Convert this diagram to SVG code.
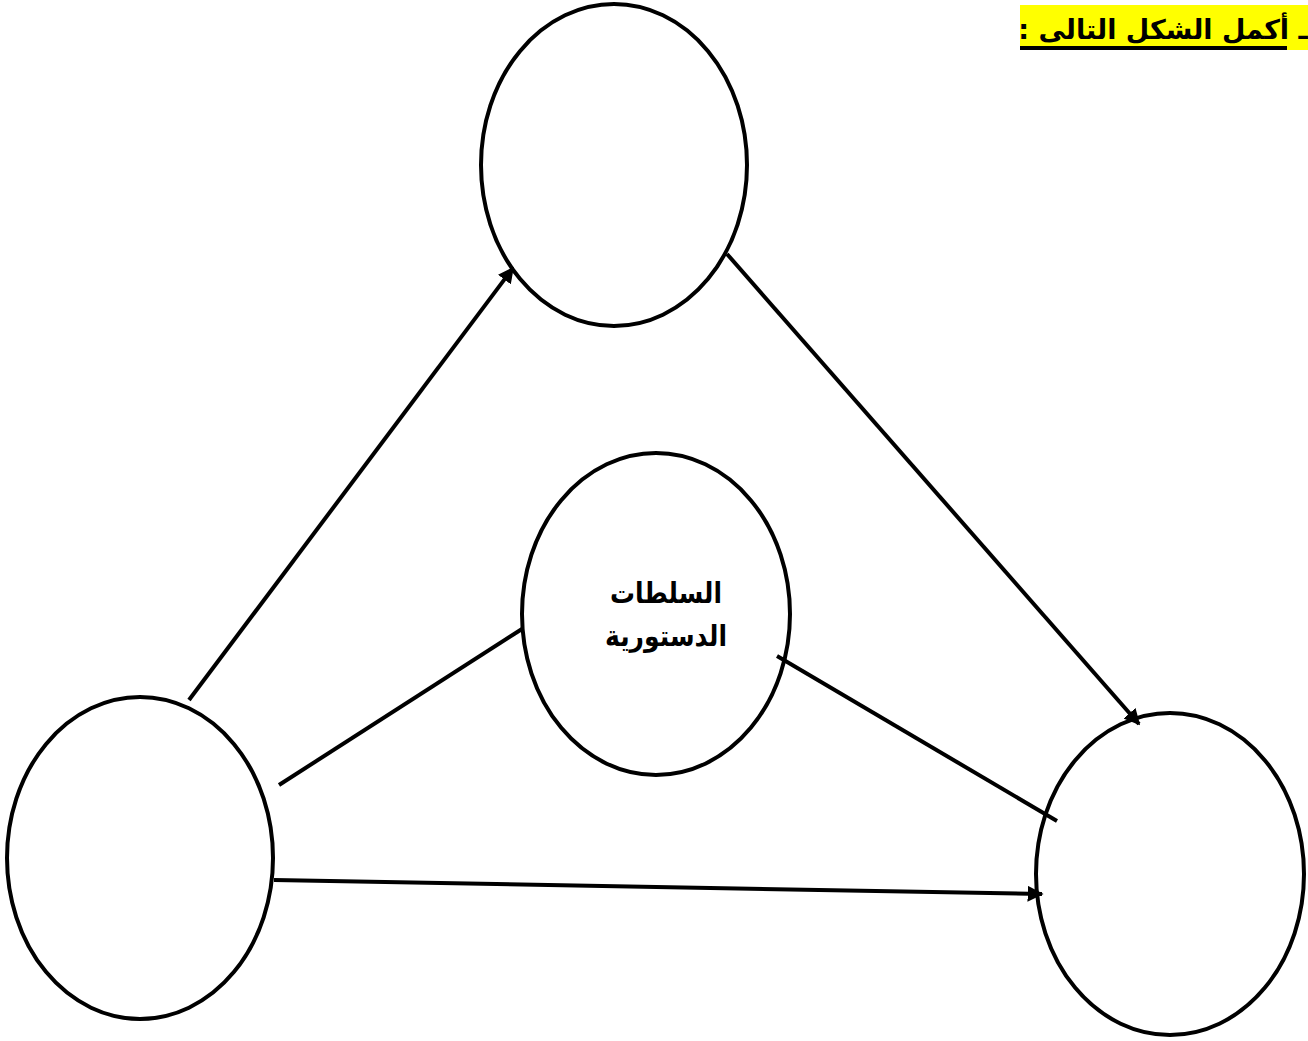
<svg xmlns="http://www.w3.org/2000/svg" width="1308" height="1041" viewBox="0 0 1308 1041">
<style>
.node{fill:#fff;stroke:#000;stroke-width:4}
.conn{stroke:#000;stroke-width:4;fill:none}
.lbl{font-family:"DejaVu Sans","Noto Sans",sans-serif;font-weight:bold;fill:#000}
</style>
<defs>
<marker id="arr" viewBox="0 0 10 10" refX="9" refY="5" markerWidth="4" markerHeight="4" orient="auto" markerUnits="strokeWidth">
<path d="M0,0 L10,5 L0,10 z" fill="#000"/>
</marker>
</defs>
<rect width="1308" height="1041" fill="#fff"/>
<g id="title">
<rect x="1020" y="5" width="288" height="45" fill="#ffff00"/>
<rect x="1020" y="46" width="267" height="4" fill="#000"/>
<text class="lbl" x="1163" y="39" font-size="27" text-anchor="middle" direction="rtl">ـ أكمل الشكل التالى :</text>
</g>
<g id="node-top"><ellipse class="node" cx="614" cy="165" rx="133" ry="161"/></g>
<g id="node-center"><ellipse class="node" cx="656" cy="614" rx="134" ry="161"/>
<text class="lbl" x="666" y="603" font-size="29" text-anchor="middle" direction="rtl" textLength="112" lengthAdjust="spacingAndGlyphs">السلطات</text>
<text class="lbl" x="666" y="646" font-size="29" text-anchor="middle" direction="rtl" textLength="122" lengthAdjust="spacingAndGlyphs">الدستورية</text>
</g>
<g id="node-left"><ellipse class="node" cx="140" cy="858" rx="133" ry="161"/></g>
<g id="node-right"><ellipse class="node" cx="1170" cy="874" rx="134" ry="161"/></g>
<g id="connectors">
<line class="conn" x1="189" y1="700" x2="513" y2="268" marker-end="url(#arr)"/>
<line class="conn" x1="727" y1="254" x2="1139" y2="724" marker-end="url(#arr)"/>
<line class="conn" x1="279" y1="785" x2="522" y2="629"/>
<line class="conn" x1="777" y1="656" x2="1057" y2="821"/>
<line class="conn" x1="274" y1="880" x2="1042" y2="894" marker-end="url(#arr)"/>
</g>
</svg>
